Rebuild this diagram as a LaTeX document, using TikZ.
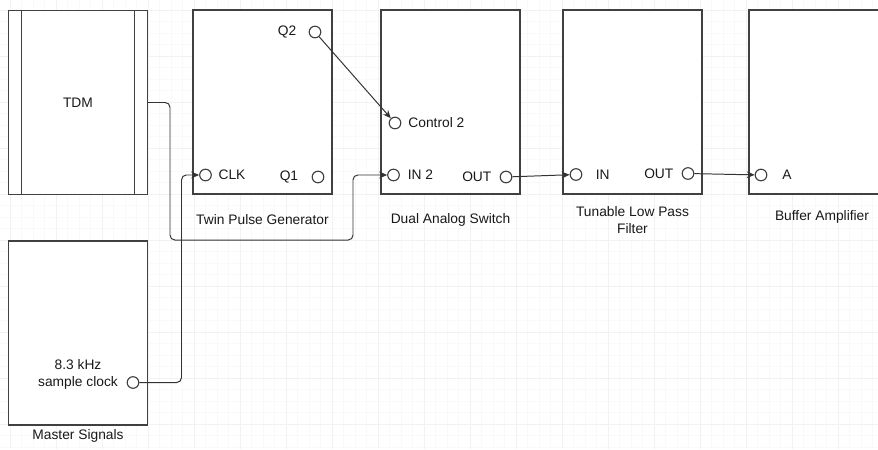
\documentclass[tikz,border=0pt]{standalone}
\usepackage{fontspec}
\setmainfont{Liberation Sans}
\usetikzlibrary{arrows.meta, positioning}

\begin{document}
\begin{tikzpicture}[
    x=0.025cm, y=-0.025cm,
    % Define styles
    every node/.style={
        font=\fontsize{9.8}{11.5}\selectfont,
        text=black!90
    },
    block/.style={
        draw=black!75,
        fill=white,
        line width=0.8pt,
        minimum width=3.475cm,
        minimum height=4.6cm
    },
    port/.style={
        circle,
        draw=black!75,
        fill=white,
        line width=0.8pt,
        minimum size=0.29cm,
        inner sep=0pt
    },
    portlabel/.style={
        inner sep=0pt
    },
    caption/.style={
        align=center,
        inner sep=0pt
    },
    link/.style={
        -{Stealth[length=0.2cm, width=0.17cm]},
        draw=black!80,
        line width=0.7pt,
        rounded corners=0.12cm
    },
    minorgrid/.style={
        draw=gray!5,
        line width=0.3pt
    },
    majorgrid/.style={
        draw=gray!10,
        line width=0.4pt
    }
]

% ============================================================
% Canvas and background grid
% ============================================================
\useasboundingbox (0,0) rectangle (878,449);
\clip (0,0) rectangle (878,449);
\fill[white] (0,0) rectangle (878,449);
\foreach \gx in {10,21.5,...,878} \draw[minorgrid] (\gx,0) -- (\gx,449);
\foreach \gy in {10,21.5,...,449} \draw[minorgrid] (0,\gy) -- (878,\gy);
\foreach \gx in {10,56,...,878} \draw[majorgrid] (\gx,0) -- (\gx,449);
\foreach \gy in {10,56,...,449} \draw[majorgrid] (0,\gy) -- (878,\gy);

% ============================================================
% Blocks
% ============================================================
\node[block] (tdm) at (78,102.5) {TDM};
\draw[black!75, line width=0.8pt] ([xshift=0.35cm]tdm.north west) -- ([xshift=0.35cm]tdm.south west);
\draw[black!75, line width=0.8pt] ([xshift=-0.35cm]tdm.north east) -- ([xshift=-0.35cm]tdm.south east);

\node[block] (master) at (78,333) {};
\node[block] (tpg) at (262.5,102) {};
\node[block] (das) at (450.5,102) {};
\node[block] (lpf) at (632.5,102) {};
\node[block] (buf) at (818.5,102) {};

% ============================================================
% Ports
% ============================================================
\node[port] (q2) at (315,32) {};
\node[port] (clk) at (205.5,175) {};
\node[port] (q1) at (318,177) {};
\node[port] (ctrl2) at (395,123) {};
\node[port] (in2) at (393.5,175) {};
\node[port] (dasout) at (506,177) {};
\node[port] (lpfin) at (576,174.5) {};
\node[port] (lpfout) at (688,173.5) {};
\node[port] (bufa) at (761,175) {};
\node[port] (sclk) at (133,382.5) {};

% Port labels
\node[portlabel, left=0.3cm of q2] {Q2};
\node[portlabel, right=0.16cm of clk] {CLK};
\node[portlabel, left=0.33cm of q1] {Q1};
\node[portlabel, right=0.17cm of ctrl2] {Control 2};
\node[portlabel, right=0.19cm of in2] {IN 2};
\node[portlabel, left=0.2cm of dasout] {OUT};
\node[portlabel, right=0.33cm of lpfin] {IN};
\node[portlabel, left=0.2cm of lpfout] {OUT};
\node[portlabel, right=0.37cm of bufa] {A};
\node[caption] at (78,374.5) {8.3 kHz\\sample clock};

% ============================================================
% Captions
% ============================================================
\node[caption] at (262.5,220) {Twin Pulse Generator};
\node[caption] at (450.5,220) {Dual Analog Switch};
\node[caption] at (632.5,220) {Tunable Low Pass\\Filter};
\node[caption] at (822,217) {Buffer Amplifier};
\node[caption] at (78,436) {Master Signals};

% ============================================================
% Connections
% ============================================================
\draw[link] (tdm.east) -| (170,240) -| (353,175) -- (in2);
\draw[link] (sclk) -| (181.5,175) -- (clk);
\draw[link] (q2) -- (ctrl2);
\draw[link] (dasout) -- (lpfin);
\draw[link] (lpfout) -- (bufa);

\end{tikzpicture}
\end{document}
